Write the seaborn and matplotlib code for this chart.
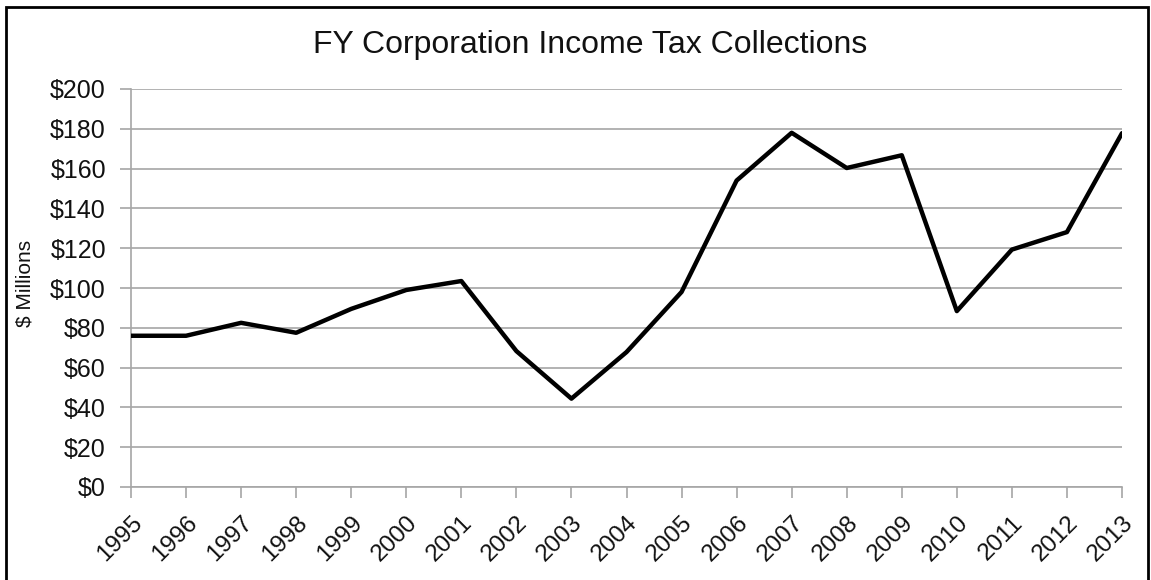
import matplotlib
matplotlib.use("Agg")
import matplotlib.pyplot as plt
import seaborn as sns
import pandas as pd
from matplotlib.patches import Rectangle

years = [1995, 1996, 1997, 1998, 1999, 2000, 2001, 2002, 2003, 2004,
         2005, 2006, 2007, 2008, 2009, 2010, 2011, 2012, 2013]
collections = [76, 76, 82.5, 77.5, 89.5, 99, 103.5, 68.3, 44.4, 67.8,
               98, 154, 178, 160.3, 166.7, 88.4, 119.3, 128.1, 177.8]
y_ticks = [0, 20, 40, 60, 80, 100, 120, 140, 160, 180, 200]
y_tick_labels = ["$" + str(v) for v in y_ticks]
title = "FY Corporation Income Tax Collections"
y_label = "$ Millions"

df = pd.DataFrame({"year": years, "value": collections})

sns.set_theme(style="white")
plt.rcParams['font.family'] = ['Liberation Sans', 'DejaVu Sans']

fig = plt.figure(figsize=(11.51, 5.80), dpi=100)
ax = fig.add_axes([131/1151, 1 - 487/580, (1122-131)/1151, (487-89)/580])

grid_c = "#a6a6a6"
txt_c = "#111111"
for v in y_ticks:
    ax.axhline(v, color=grid_c, lw=1.2, zorder=1)

sns.lineplot(data=df, x="year", y="value", color="black", lw=3.2, ax=ax, zorder=3)

ax.set_xlim(years[0], years[-1])
ax.set_ylim(0, 200)
ax.set_yticks(y_ticks)
ax.set_yticklabels(y_tick_labels, fontsize=18, color=txt_c)
ax.set_xticks(years)
ax.set_xticklabels([str(y) for y in years], rotation=45, ha="right",
                   rotation_mode="anchor", fontsize=17.5, color=txt_c)
ax.tick_params(axis="both", which="both", length=8, width=1.2, color=grid_c,
               direction="out", left=True, bottom=True)
ax.tick_params(axis="y", pad=10)
ax.tick_params(axis="x", pad=10)
ax.set_xlabel("")
ax.set_ylabel("")
fig.text(25/1151, 1 - 283/580, y_label, rotation=90, ha="center", va="center",
         fontsize=15, color=txt_c)

for s in ["top", "right"]:
    ax.spines[s].set_visible(False)
for s in ["left", "bottom"]:
    ax.spines[s].set_color(grid_c)
    ax.spines[s].set_linewidth(1.2)

fig.text(590/1151, 1 - 45/580, title, ha="center", va="center", fontsize=23, color=txt_c)

fig.patches.append(Rectangle((6/1151, -0.01), (1148-6)/1151, 1 - 7/580 + 0.01,
                             transform=fig.transFigure, fill=False,
                             edgecolor="black", lw=2, zorder=10))

fig.savefig("out.png", dpi=100)
